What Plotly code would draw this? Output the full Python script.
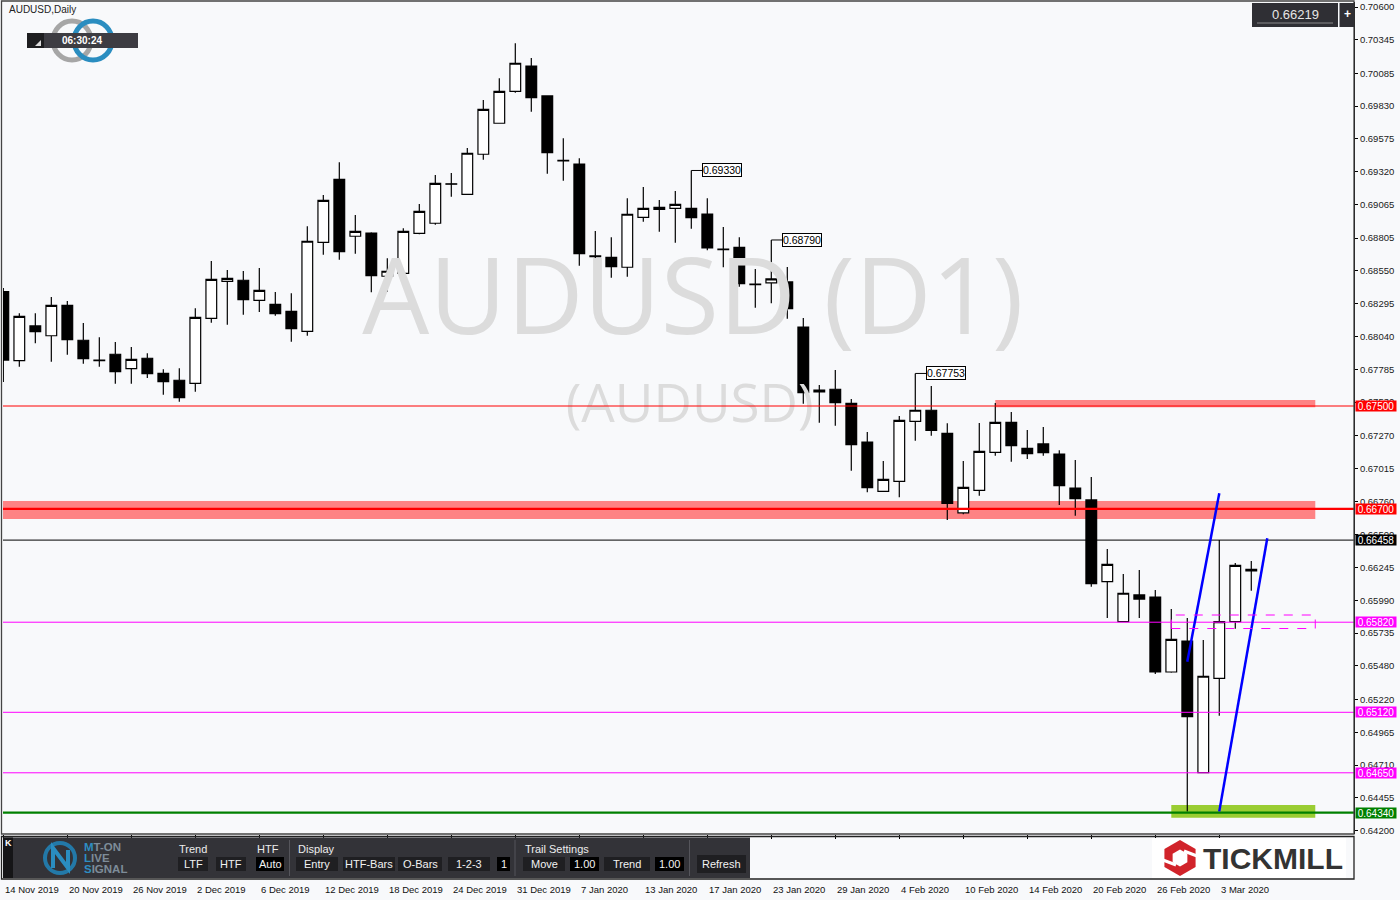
import plotly.graph_objects as go

# ---------------- data ----------------
bars = list(range(79))
opens = [0.68388, 0.67852, 0.68122, 0.68046, 0.68282, 0.68011, 0.67857, 0.67902, 0.67790, 0.67871,
         0.67754, 0.67700, 0.67676, 0.68181, 0.68469, 0.68477, 0.68321, 0.68290, 0.68236, 0.68080,
         0.68772, 0.69261, 0.68819, 0.68844, 0.68508, 0.68531, 0.68842, 0.68920, 0.69227, 0.69145,
         0.69456, 0.69697, 0.69945, 0.70142, 0.69909, 0.69409, 0.69380, 0.68666, 0.68655, 0.68578,
         0.68966, 0.69028, 0.69036, 0.69036, 0.68992, 0.68720, 0.68733, 0.68448, 0.68456, 0.68464,
         0.68114, 0.67609, 0.67630, 0.67521, 0.67220, 0.66837, 0.66915, 0.67381, 0.67467, 0.67288,
         0.66669, 0.66845, 0.67140, 0.67373, 0.67171, 0.67205, 0.67127, 0.66863, 0.66770, 0.66135,
         0.65824, 0.66032, 0.66016, 0.65433, 0.65674, 0.64652, 0.65384, 0.65824, 0.66231]
highs = [0.68417, 0.68220, 0.68220, 0.68347, 0.68316, 0.68145, 0.68034, 0.67997, 0.67958, 0.67909,
         0.67785, 0.67793, 0.68259, 0.68627, 0.68557, 0.68549, 0.68572, 0.68386, 0.68376, 0.68896,
         0.69139, 0.69394, 0.68984, 0.68850, 0.68648, 0.68881, 0.69070, 0.69295, 0.69310, 0.69505,
         0.69878, 0.70046, 0.70318, 0.70204, 0.69914, 0.69580, 0.69425, 0.68860, 0.68811, 0.69114,
         0.69202, 0.69101, 0.69171, 0.69330, 0.69114, 0.68891, 0.68811, 0.68564, 0.68790, 0.68580,
         0.68184, 0.67663, 0.67780, 0.67554, 0.67298, 0.67073, 0.67422, 0.67753, 0.67655, 0.67366,
         0.67073, 0.67368, 0.67523, 0.67453, 0.67314, 0.67337, 0.67156, 0.67080, 0.66948, 0.66389,
         0.66195, 0.66226, 0.66070, 0.65923, 0.65853, 0.65682, 0.66458, 0.66280, 0.66296]
lows = [0.67686, 0.67805, 0.67987, 0.67844, 0.67899, 0.67829, 0.67805, 0.67673, 0.67673, 0.67718,
        0.67588, 0.67533, 0.67611, 0.68147, 0.68132, 0.68209, 0.68230, 0.68202, 0.68000, 0.68046,
        0.68676, 0.68637, 0.68683, 0.68383, 0.68388, 0.68484, 0.68834, 0.68909, 0.69126, 0.69142,
        0.69414, 0.69694, 0.69934, 0.69787, 0.69305, 0.69251, 0.68590, 0.68492, 0.68497, 0.68505,
        0.68932, 0.68854, 0.68769, 0.68878, 0.68710, 0.68578, 0.68427, 0.68264, 0.68298, 0.68178,
        0.67518, 0.67370, 0.67347, 0.66997, 0.66829, 0.66834, 0.66791, 0.67230, 0.67269, 0.66614,
        0.66659, 0.66803, 0.67114, 0.67067, 0.67088, 0.67114, 0.66731, 0.66648, 0.66096, 0.65853,
        0.65820, 0.65853, 0.65418, 0.65428, 0.64350, 0.64650, 0.65094, 0.65770, 0.66065]
closes = [0.67857, 0.68197, 0.68077, 0.68282, 0.68015, 0.67868, 0.67852, 0.67767, 0.67863, 0.67751,
          0.67689, 0.67564, 0.68189, 0.68484, 0.68492, 0.68326, 0.68399, 0.68217, 0.68101, 0.68780,
          0.69098, 0.68699, 0.68857, 0.68512, 0.68547, 0.68857, 0.69013, 0.69230, 0.69223, 0.69464,
          0.69805, 0.69945, 0.70163, 0.69896, 0.69468, 0.69404, 0.68683, 0.68661, 0.68582, 0.68990,
          0.69036, 0.69044, 0.69067, 0.68963, 0.68728, 0.68715, 0.68450, 0.68443, 0.68487, 0.68256,
          0.67603, 0.67624, 0.67526, 0.67199, 0.66865, 0.66930, 0.67389, 0.67467, 0.67311, 0.66744,
          0.66867, 0.67148, 0.67373, 0.67192, 0.67129, 0.67137, 0.66881, 0.66780, 0.66119, 0.66270,
          0.66045, 0.66000, 0.65433, 0.65687, 0.65086, 0.65400, 0.65824, 0.66262, 0.66219]

date_tick_idx = list(range(0, 80, 4))
date_tick_labels = ["14 Nov 2019", "20 Nov 2019", "26 Nov 2019", "2 Dec 2019", "6 Dec 2019",
                    "12 Dec 2019", "18 Dec 2019", "24 Dec 2019", "31 Dec 2019", "7 Jan 2020",
                    "13 Jan 2020", "17 Jan 2020", "23 Jan 2020", "29 Jan 2020", "4 Feb 2020",
                    "10 Feb 2020", "14 Feb 2020", "20 Feb 2020", "26 Feb 2020", "3 Mar 2020"]

price_ticks = [0.70600, 0.70345, 0.70085, 0.69830, 0.69575, 0.69320, 0.69065, 0.68805, 0.68550,
               0.68295, 0.68040, 0.67785, 0.67530, 0.67270, 0.67015, 0.66760, 0.66500, 0.66245,
               0.65990, 0.65735, 0.65480, 0.65220, 0.64965, 0.64710, 0.64455, 0.64200]

levels = [0.67500, 0.66700, 0.66458, 0.65820, 0.65120, 0.64650, 0.64340]
level_colors = ["#FF0000", "#FF0000", "#000000", "#FF00FF", "#FF00FF", "#FF00FF", "#008000"]
level_widths = [1, 2.2, 1, 1, 1, 1, 2.2]

# zones: (x_start, x_end, price_low, price_high)
zone_675 = (62.0, 82.0, 0.67490, 0.67547)
zone_667 = (-0.5, 82.0, 0.66622, 0.66762)
zone_box = (73.0, 82.0, 0.65771, 0.65876)
zone_green = (73.0, 82.0, 0.64301, 0.64400)

trend1_x = [74, 76]
trend1_y = [0.65513, 0.66822]
trend2_x = [76, 79]
trend2_y = [0.64350, 0.66472]

peak_idx = [43, 48, 57]
peak_vals = [0.69330, 0.68790, 0.67753]

last_price = 0.66219

# ---------------- geometry helpers ----------------
L, R, T, B = 3, 1354, 2, 879
def PX(p): return (p - L) / (R - L)
def PY(p): return (B - p) / (B - T)

FONT = "Liberation Sans"
BG = "#F8F9FB"

fig = go.Figure()

# watermark (behind everything)
fig.add_trace(go.Scatter(x=[43.1], y=[0.68262], mode="text", text=["AUDUSD (D1)"],
                         textfont=dict(size=106, color="#DCDCDC", family="Open Sans"),
                         hoverinfo="skip", showlegend=False))
fig.add_trace(go.Scatter(x=[42.9], y=[0.67480], mode="text", text=["(AUDUSD)"],
                         textfont=dict(size=53, color="#DCDCDC", family="Open Sans"),
                         hoverinfo="skip", showlegend=False))

# horizontal levels
for lv, c, w in zip(levels, level_colors, level_widths):
    fig.add_trace(go.Scatter(x=[-5, 100], y=[lv, lv], mode="lines", line=dict(color=c, width=w),
                             hoverinfo="skip", showlegend=False))

# candles
fig.add_trace(go.Candlestick(
    x=bars, open=opens, high=highs, low=lows, close=closes,
    increasing=dict(fillcolor="#FFFFFF", line=dict(color="#000000", width=1.2)),
    decreasing=dict(fillcolor="#000000", line=dict(color="#000000", width=1.2)),
    whiskerwidth=0, hoverinfo="skip", showlegend=False))

# trend lines
for tx, ty in ((trend1_x, trend1_y), (trend2_x, trend2_y)):
    fig.add_trace(go.Scatter(x=tx, y=ty, mode="lines", line=dict(color="#0000FF", width=2.5),
                             hoverinfo="skip", showlegend=False))

shapes = []
annos = []

# zones
for z, col in ((zone_675, "rgba(255,110,110,0.85)"), (zone_667, "rgba(255,110,110,0.85)"),
               (zone_green, "#9ACD32")):
    shapes.append(dict(type="rect", xref="x", yref="y", x0=z[0], x1=z[1], y0=z[2], y1=z[3],
                       fillcolor=col, line=dict(width=0), layer="below"))
shapes.append(dict(type="rect", xref="x", yref="y", x0=zone_box[0], x1=zone_box[1],
                   y0=zone_box[2], y1=zone_box[3], fillcolor="rgba(0,0,0,0)",
                   line=dict(color="#FF00FF", width=1, dash="dash"), layer="above"))

# peak labels
for i, v in zip(peak_idx, peak_vals):
    shapes.append(dict(type="line", xref="x", yref="y", xsizemode="pixel", xanchor=i,
                       x0=0, x1=11, y0=v, y1=v, line=dict(color="#000", width=1)))
    annos.append(dict(x=i, y=v, xref="x", yref="y", xanchor="left", yanchor="middle", xshift=11,
                      text=f"{v:.5f}", showarrow=False, bgcolor="#FFFFFF", bordercolor="#000",
                      borderwidth=1, borderpad=0, font=dict(size=10.5, family=FONT, color="#000")))

# level labels on the price axis
for lv, c in zip(levels, level_colors):
    annos.append(dict(xref="paper", x=1, xanchor="left", xshift=1, yref="y", y=lv,
                      yanchor="middle", text=f"{lv:.5f}", showarrow=False, bgcolor=c,
                      width=40, height=10, borderpad=0,
                      font=dict(size=10, family=FONT, color="#FFFFFF")))

# date labels
for i, t in zip(date_tick_idx, date_tick_labels):
    annos.append(dict(x=i, xref="x", y=PY(882), yref="paper", xanchor="left", yanchor="top",
                      text=t, showarrow=False, font=dict(size=9.5, family=FONT, color="#111")))

# frames
shapes.append(dict(type="rect", xref="paper", yref="paper", x0=PX(1.5), x1=PX(1354),
                   y0=PY(834), y1=PY(1), line=dict(color="#444", width=1.3)))
shapes.append(dict(type="rect", xref="paper", yref="paper", x0=PX(1.5), x1=PX(1354),
                   y0=PY(879), y1=PY(836.5), line=dict(color="#222", width=1.3)))

# top-left title
annos.append(dict(xref="paper", yref="paper", x=PX(7), y=PY(10), xanchor="left", yanchor="middle",
                  text="AUDUSD,Daily", showarrow=False, font=dict(size=10, family=FONT, color="#222")))

# logo rings + timer
shapes.append(dict(type="circle", xref="paper", yref="paper", x0=PX(53), x1=PX(91), y0=PY(60),
                   y1=PY(21), line=dict(color="#A6A6A6", width=5)))
shapes.append(dict(type="circle", xref="paper", yref="paper", x0=PX(74), x1=PX(112), y0=PY(60),
                   y1=PY(21), line=dict(color="#2A8DC0", width=5)))
shapes.append(dict(type="rect", xref="paper", yref="paper", x0=PX(27), x1=PX(138), y0=PY(48),
                   y1=PY(33), fillcolor="#3D3C42", line=dict(width=0)))
shapes.append(dict(type="rect", xref="paper", yref="paper", x0=PX(27), x1=PX(44), y0=PY(48),
                   y1=PY(33), fillcolor="#1E1E20", line=dict(width=0)))
shapes.append(dict(type="path", xref="paper", yref="paper",
                   path=f"M {PX(35)} {PY(46)} L {PX(41)} {PY(46)} L {PX(41)} {PY(40)} Z",
                   fillcolor="#DDDDDD", line=dict(width=0)))
annos.append(dict(xref="paper", yref="paper", x=PX(82), y=PY(40.5), xanchor="center", yanchor="middle",
                  text="<b>06:30:24</b>", showarrow=False, font=dict(size=10, family=FONT, color="#FFFFFF")))

# current price box (top right)
shapes.append(dict(type="rect", xref="paper", yref="paper", x0=PX(1252), x1=PX(1338), y0=PY(27),
                   y1=PY(3), fillcolor="#2F2F34", line=dict(width=0)))
shapes.append(dict(type="rect", xref="paper", yref="paper", x0=PX(1339.5), x1=PX(1354), y0=PY(27),
                   y1=PY(3), fillcolor="#2F2F34", line=dict(width=0)))
shapes.append(dict(type="line", xref="paper", yref="paper", x0=PX(1257), x1=PX(1333), y0=PY(23),
                   y1=PY(23), line=dict(color="#8A8A8A", width=1)))
annos.append(dict(xref="paper", yref="paper", x=PX(1295), y=PY(14), xanchor="center", yanchor="middle",
                  text=f"{last_price:.5f}", showarrow=False, font=dict(size=13, family=FONT, color="#E6E6E6")))
annos.append(dict(xref="paper", yref="paper", x=PX(1347), y=PY(14), xanchor="center", yanchor="middle",
                  text="<b>+</b>", showarrow=False, font=dict(size=12, family=FONT, color="#FFFFFF")))

# ---------------- bottom indicator panel ----------------
shapes.append(dict(type="rect", xref="paper", yref="paper", x0=PX(3), x1=PX(750), y0=PY(878),
                   y1=PY(837.5), fillcolor="#333338", line=dict(width=0)))
shapes.append(dict(type="rect", xref="paper", yref="paper", x0=PX(3), x1=PX(13), y0=PY(878),
                   y1=PY(837.5), fillcolor="#151517", line=dict(width=0)))
annos.append(dict(xref="paper", yref="paper", x=PX(8), y=PY(843), xanchor="center", yanchor="middle",
                  text="<b>K</b>", showarrow=False, font=dict(size=9, family=FONT, color="#FFFFFF")))
# MT-ON logo
shapes.append(dict(type="circle", xref="paper", yref="paper", x0=PX(45), x1=PX(75), y0=PY(873),
                   y1=PY(843), line=dict(color="#2379A8", width=4)))
shapes.append(dict(type="path", xref="paper", yref="paper",
                   path=f"M {PX(53)} {PY(868)} L {PX(53)} {PY(848)} L {PX(68)} {PY(868)} L {PX(68)} {PY(850)}",
                   line=dict(color="#2A8DC0", width=4)))
for txt, yy in (("<span style='color:#2E8DC2'>M</span>T-ON", 847),
                ("<span style='color:#2E8DC2'>L</span>IVE", 858),
                ("<span style='color:#2E8DC2'>S</span>IGNAL", 869)):
    annos.append(dict(xref="paper", yref="paper", x=PX(82), y=PY(yy), xanchor="left", yanchor="middle",
                      text=f"<b>{txt}</b>", showarrow=False, font=dict(size=11.5, family=FONT, color="#7E8C99")))

for txt, xx in (("Trend", 177), ("HTF", 255), ("Display", 296), ("Trail Settings", 523)):
    annos.append(dict(xref="paper", yref="paper", x=PX(xx), y=PY(849), xanchor="left", yanchor="middle",
                      text=txt, showarrow=False, font=dict(size=11, family=FONT, color="#EDEDED")))

buttons = [("LTF", 178, 208, "#1F1F22"), ("HTF", 216, 246, "#1F1F22"), ("Auto", 256, 284, "#000000"),
           ("Entry", 296, 338, "#1F1F22"), ("HTF-Bars", 343, 395, "#1F1F22"), ("O-Bars", 398, 442, "#1F1F22"),
           ("1-2-3", 448, 490, "#1F1F22"), ("1", 497, 510, "#000000"), ("Move", 523, 565, "#1F1F22"),
           ("1.00", 570, 599, "#000000"), ("Trend", 604, 650, "#1F1F22"), ("1.00", 655, 684, "#000000")]
for txt, a, b, col in buttons:
    shapes.append(dict(type="rect", xref="paper", yref="paper", x0=PX(a), x1=PX(b), y0=PY(871),
                       y1=PY(857), fillcolor=col, line=dict(width=0)))
    annos.append(dict(xref="paper", yref="paper", x=PX((a + b) / 2), y=PY(864), xanchor="center",
                      yanchor="middle", text=txt, showarrow=False,
                      font=dict(size=11, family=FONT, color="#F2F2F2")))
shapes.append(dict(type="rect", xref="paper", yref="paper", x0=PX(697), x1=PX(746), y0=PY(873),
                   y1=PY(855), fillcolor="#1F1F22", line=dict(width=0)))
annos.append(dict(xref="paper", yref="paper", x=PX(721.5), y=PY(864), xanchor="center", yanchor="middle",
                  text="Refresh", showarrow=False, font=dict(size=11, family=FONT, color="#F2F2F2")))
for sx in (289.5, 515, 689.5):
    shapes.append(dict(type="line", xref="paper", yref="paper", x0=PX(sx), x1=PX(sx), y0=PY(876),
                       y1=PY(840), line=dict(color="#55555B", width=1)))

# TICKMILL logo
shapes.append(dict(type="rect", xref="paper", yref="paper", x0=PX(1152), x1=PX(1346), y0=PY(878),
                   y1=PY(838), fillcolor="#FFFFFF", line=dict(width=0)))
cx, cy, r = 1180, 858, 18
def hexpath(rr):
    pts = [(cx, cy - rr), (cx + 0.866 * rr, cy - 0.5 * rr), (cx + 0.866 * rr, cy + 0.5 * rr),
           (cx, cy + rr), (cx - 0.866 * rr, cy + 0.5 * rr), (cx - 0.866 * rr, cy - 0.5 * rr)]
    return "M " + " L ".join(f"{PX(p[0])} {PY(p[1])}" for p in pts) + " Z"
shapes.append(dict(type="path", xref="paper", yref="paper", path=hexpath(r), fillcolor="#D1232A",
                   line=dict(width=0)))
shapes.append(dict(type="path", xref="paper", yref="paper", path=hexpath(8.5), fillcolor="#FFFFFF",
                   line=dict(width=0)))
shapes.append(dict(type="line", xref="paper", yref="paper", x0=PX(cx + 4), x1=PX(cx + 17),
                   y0=PY(cy - 7), y1=PY(cy - 2), line=dict(color="#FFFFFF", width=3)))
shapes.append(dict(type="line", xref="paper", yref="paper", x0=PX(cx - 4), x1=PX(cx - 17),
                   y0=PY(cy + 7), y1=PY(cy + 2), line=dict(color="#FFFFFF", width=3)))
annos.append(dict(xref="paper", yref="paper", x=PX(1201), y=PY(858), xanchor="left", yanchor="middle",
                  text="<b>TICKMILL</b>", showarrow=False, font=dict(size=30, family=FONT, color="#333333")))

fig.update_layout(
    width=1400, height=900, margin=dict(l=3, r=46, t=2, b=21),
    paper_bgcolor=BG, plot_bgcolor=BG, showlegend=False, hovermode=False,
    boxgap=0.33, boxgroupgap=0,
    shapes=shapes, annotations=annos,
    xaxis=dict(range=[-0.02, 84.42], anchor="y2", tickvals=date_tick_idx, ticks="outside",
               ticklen=4, tickcolor="#000", showticklabels=False, showgrid=False, zeroline=False,
               showline=False, rangeslider=dict(visible=False), fixedrange=True),
    yaxis=dict(domain=[PY(834), 1], range=[0.641744, 0.706391], side="right", anchor="x",
               tickvals=price_ticks, ticktext=[f"{v:.5f}" for v in price_ticks], ticks="outside",
               ticklen=3, tickcolor="#000", showline=True, linecolor="#000", linewidth=1,
               showgrid=False, zeroline=False, fixedrange=True,
               tickfont=dict(size=9.5, family=FONT, color="#1A1A1A")),
    yaxis2=dict(domain=[0, PY(837)], range=[0, 1], side="right", anchor="x",
                tickvals=[0.167, 0.857], ticktext=["0", "0"], ticks="outside", ticklen=3,
                tickcolor="#000", showline=True, linecolor="#000", showgrid=False, zeroline=False,
                fixedrange=True, tickfont=dict(size=9.5, family=FONT, color="#1A1A1A")),
)

fig.write_html("out.html", config={"displayModeBar": False},
               post_script="document.body.style.margin='0';document.body.style.overflow='hidden';")
